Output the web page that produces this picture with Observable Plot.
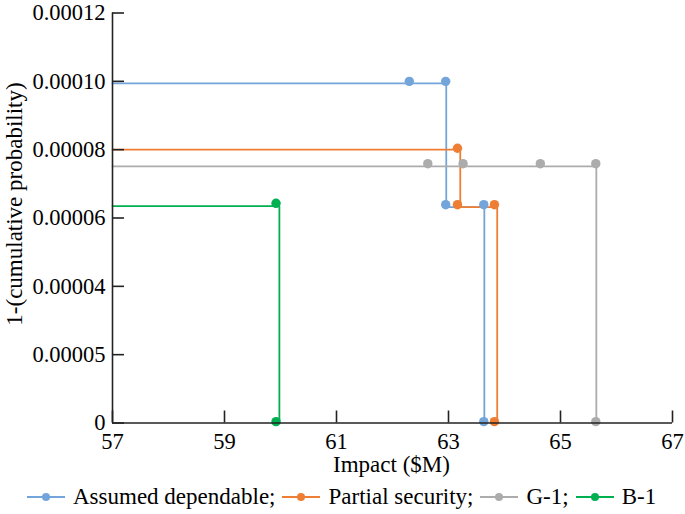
<!DOCTYPE html>
<html>
<head>
<meta charset="utf-8">
<script src="https://cdn.jsdelivr.net/npm/d3@7"></script>
<script src="https://cdn.jsdelivr.net/npm/@observablehq/plot@0.6"></script>
<style>
  body { margin: 0; background: #fff; }
  #chart { width: 685px; }
  .legend { display: flex; align-items: center; height: 34px; padding-left: 27px; font-size: 23px; color: #000; white-space: nowrap; }
  .legend .item { display: flex; align-items: center; margin-right: 7px; }
  .legend svg { margin-right: 8px; }
</style>
</head>
<body>
<div id="chart"></div>
<script>
// ---- data ----
const seriesNames = ["Assumed dependable", "Partial security", "G-1", "B-1"];
const seriesColors = ["#74a5da", "#ee7e33", "#acacac", "#00af50"];

// step-line corner points (impact $M, 1-cumulative probability)
const lineX_Assumed = [57, 62.96, 62.96, 63.64, 63.64];
const lineY_Assumed = [0.0000994, 0.0000994, 0.0000632, 0.0000632, 0];
const lineX_Partial = [57, 63.21, 63.21, 63.87, 63.87];
const lineY_Partial = [0.0000800, 0.0000800, 0.0000632, 0.0000632, 0];
const lineX_G1 = [57, 65.64, 65.64];
const lineY_G1 = [0.0000751, 0.0000751, 0];
const lineX_B1 = [57, 59.98, 59.98];
const lineY_B1 = [0.0000635, 0.0000635, 0];

// markers
const dotX_Assumed = [62.30, 62.95, 62.95, 63.63, 63.63];
const dotY_Assumed = [0.0001, 0.0001, 0.0000639, 0.0000639, 0.0000004];
const dotX_Partial = [63.16, 63.16, 63.82, 63.82];
const dotY_Partial = [0.0000804, 0.0000639, 0.0000639, 0.0000004];
const dotX_G1 = [62.63, 63.26, 64.64, 65.63, 65.63];
const dotY_G1 = [0.0000759, 0.0000759, 0.0000759, 0.0000759, 0.0000004];
const dotX_B1 = [59.92, 59.92];
const dotY_B1 = [0.0000643, 0.0000004];

const xTicks = [57, 59, 61, 63, 65, 67];
const yTicks = [0, 0.00002, 0.00004, 0.00006, 0.00008, 0.00010, 0.00012];
const yTickLabels = ["0", "0.00005", "0.00004", "0.00006", "0.00008", "0.00010", "0.00012"];
const xLabel = "Impact ($M)";
const yLabel = "1-(cumulative probability)";

// ---- build tables ----
const lineSets = [[lineX_Assumed, lineY_Assumed], [lineX_Partial, lineY_Partial], [lineX_G1, lineY_G1], [lineX_B1, lineY_B1]];
const dotSets = [[dotX_Assumed, dotY_Assumed], [dotX_Partial, dotY_Partial], [dotX_G1, dotY_G1], [dotX_B1, dotY_B1]];
const lines = lineSets.flatMap(([xs, ys], i) => xs.map((x, j) => ({x, y: ys[j], s: seriesNames[i]})));
const dots = dotSets.flatMap(([xs, ys], i) => xs.map((x, j) => ({x, y: ys[j], s: seriesNames[i]})));

const FF = "Liberation Serif";
const FS = 23;
const TFS = 22.5;
const plot = Plot.plot({
  width: 685,
  height: 480,
  marginLeft: 112,
  marginRight: 13,
  marginTop: 12.5,
  marginBottom: 57.5,
  style: {background: "#fff", overflow: "visible"},
  x: {domain: [57, 67]},
  y: {domain: [0, 0.00012]},
  color: {domain: seriesNames, range: seriesColors},
  marks: [
    Plot.line(lines, {x: "x", y: "y", z: "s", stroke: "s", strokeWidth: 1.8}),
    Plot.dot(dots, {x: "x", y: "y", fill: "s", r: 4.7, stroke: "none"}),
    Plot.ruleX([57], {stroke: "#222", strokeWidth: 1.6}),
    Plot.ruleY([0], {stroke: "#222", strokeWidth: 1.6}),
    Plot.axisY(yTicks, {anchor: "left", tickSize: -12, tickFormat: () => "", label: null, stroke: "#222", strokeWidth: 1.6}),
    Plot.axisY(yTicks, {anchor: "left", tickSize: 0, tickPadding: 7, tickFormat: (d) => yTickLabels[yTicks.indexOf(d)], label: null, fontSize: TFS, fontFamily: FF, fill: "#000"}),
    Plot.axisX(xTicks, {anchor: "bottom", tickSize: -12, tickFormat: () => "", label: null, stroke: "#222", strokeWidth: 1.6}),
    Plot.axisX(xTicks, {anchor: "bottom", tickSize: 0, tickPadding: 10, tickFormat: d => String(d), label: null, fontSize: TFS, fontFamily: FF, fill: "#000"}),
    Plot.text([xLabel], {frameAnchor: "bottom", dy: 42, dx: -1, lineAnchor: "middle", textAnchor: "middle", fontSize: FS, fontFamily: FF, fill: "#000"}),
    Plot.text([yLabel], {frameAnchor: "left", textAnchor: "middle", lineAnchor: "middle", rotate: -90, dx: -98, dy: -14, fontSize: FS, fontFamily: FF, fill: "#000"})
  ]
});
document.getElementById("chart").appendChild(plot);

// ---- legend ----
const legend = document.createElement("div");
legend.className = "legend";
legend.style.fontFamily = "'Liberation Serif', serif";
seriesNames.forEach((name, i) => {
  const item = document.createElement("span");
  item.className = "item";
  const sym = d3.create("svg").attr("width", 38).attr("height", 12);
  sym.append("line").attr("x1", 0).attr("x2", 38).attr("y1", 6).attr("y2", 6).attr("stroke", seriesColors[i]).attr("stroke-width", 1.8);
  sym.append("circle").attr("cx", 19).attr("cy", 6).attr("r", 4).attr("fill", seriesColors[i]);
  item.appendChild(sym.node());
  const t = document.createElement("span");
  t.style.fontFamily = "'Liberation Serif', serif";
  t.textContent = name + (i < seriesNames.length - 1 ? ";" : "");
  item.appendChild(t);
  legend.appendChild(item);
});
document.getElementById("chart").appendChild(legend);
</script>
</body>
</html>
